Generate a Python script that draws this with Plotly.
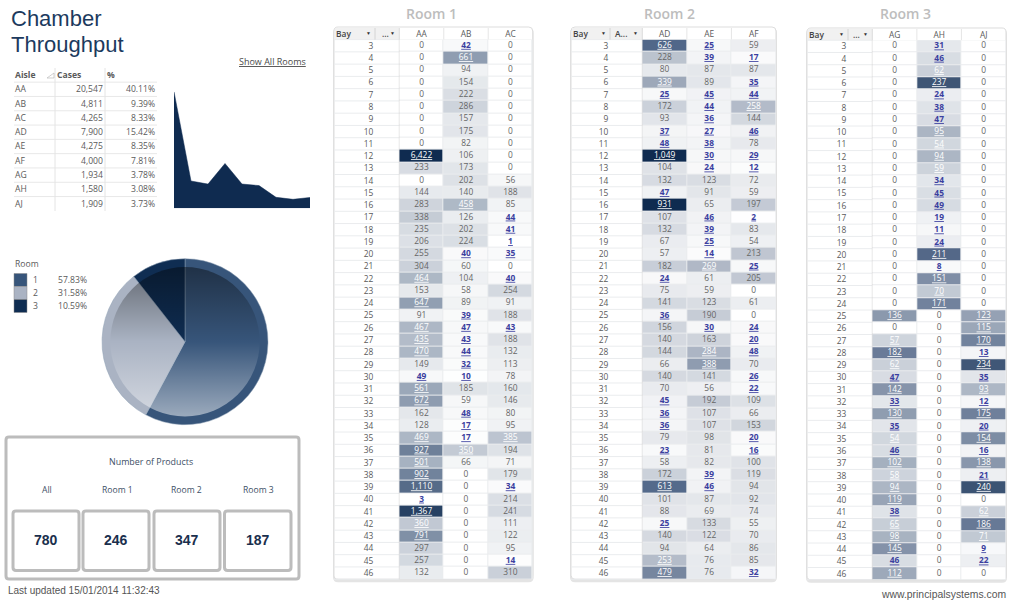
import base64

import numpy as np
import plotly.graph_objects as go

# data
BAYS = list(range(3, 47))

AA = [0,0,0,0,0,0,0,0,0,6422,233,0,144,283,338,235,206,255,304,464,153,647,91,467,435,470,149,49,561,672,162,128,469,927,501,902,1110,3,1367,360,791,297,257,132]
AB = [42,661,94,154,222,286,157,175,82,106,173,202,140,458,126,202,224,40,60,104,58,89,39,47,43,44,32,10,185,59,48,17,17,350,66,0,0,0,0,0,0,0,0,0]
AC = [0,0,0,0,0,0,0,0,0,0,0,56,188,85,44,41,1,35,0,40,254,91,188,43,188,132,113,78,160,146,80,95,385,194,71,179,34,214,241,111,122,95,14,310]

AD = [626,228,80,339,25,172,93,37,48,1049,104,132,47,931,107,132,67,57,182,24,75,141,36,156,140,144,66,140,70,45,36,36,79,23,58,172,613,101,88,25,140,94,253,479]
AE = [25,39,87,89,45,44,36,27,38,30,24,123,91,65,46,39,25,14,269,61,59,123,190,30,163,284,388,141,56,192,107,107,98,81,82,39,46,87,69,133,122,64,76,76]
AF = [59,17,87,35,44,258,144,46,78,29,12,72,59,197,2,83,54,213,25,205,0,61,0,24,20,48,70,26,22,109,66,153,20,16,100,119,94,92,74,55,70,86,85,32]

AG = [0,0,0,0,0,0,0,0,0,0,0,0,0,0,0,0,0,0,0,0,0,0,136,0,57,182,62,47,142,33,130,35,54,46,102,58,94,119,38,65,98,145,46,112]
AH = [31,46,62,237,24,38,47,95,54,94,59,34,45,49,19,11,24,211,8,151,70,171,0,0,0,0,0,0,0,0,0,0,0,0,0,0,0,0,0,0,0,0,0,0]
AJ = [0,0,0,0,0,0,0,0,0,0,0,0,0,0,0,0,0,0,0,0,0,0,123,115,170,13,234,35,93,12,175,20,154,16,138,21,240,0,62,186,71,9,22,0]

AISLES = ["AA", "AB", "AC", "AD", "AE", "AF", "AG", "AH", "AJ"]
CASES = [20547, 4811, 4265, 7900, 4275, 4000, 1934, 1580, 1909]
CASES_PCT = ["40.11%", "9.39%", "8.33%", "15.42%", "8.35%", "7.81%", "3.78%", "3.08%", "3.73%"]

ROOMS = ["1", "2", "3"]
ROOM_SHARE = [57.83, 31.58, 10.59]
ROOM_COLORS = ["#37557a", "#aab3c3", "#0f2d52"]

PRODUCT_LABELS = ["All", "Room 1", "Room 2", "Room 3"]
PRODUCT_COUNTS = [780, 246, 347, 187]

W, H = 1024, 603
NAVY = "#0f2b50"
TEXT = "#5a5a5a"
LINK = "#3b3f9f"
GRID = "#eaecee"
FONT = "Open Sans"

# colour stops are (value, colour), each room has its own scale
TABLES = [
    dict(title="Room 1", title_x=431.7, cols=["AA", "AB", "AC"], values=[AA, AB, AC],
         left=334, head=375, body=399.3, right=532.7, top=27, y0=39.6, y1=579.2, white_from=350,
         second="...", second_x=382, zmax=1500,
         stops=[(0, "#ffffff"), (100, "#eff1f3"), (350, "#c3cad4"), (560, "#9ba8b9"), (790, "#8090a6"),
                (1110, "#566b88"), (1500, NAVY)]),
    dict(title="Room 2", title_x=669, cols=["AD", "AE", "AF"], values=[AD, AE, AF],
         left=571, head=610, body=642.3, right=776, top=27, y0=39.6, y1=579.2, white_from=250,
         second="A...", second_x=615, zmax=900,
         stops=[(0, "#ffffff"), (100, "#e0e3e8"), (250, "#b5bdca"), (480, "#76869f"), (620, "#52688a"), (900, NAVY)]),
    dict(title="Room 3", title_x=905.5, cols=["AG", "AH", "AJ"], values=[AG, AH, AJ],
         left=807, head=848, body=872.3, right=1006, top=28, y0=40.2, y1=579.8, white_from=50,
         second="...", second_x=853, zmax=240,
         stops=[(0, "#ffffff"), (50, "#d5dae1"), (100, "#a6b1c0"), (150, "#808fa6"), (200, "#5d7090"), (240, "#3b5373")]),
]


def px(x):
    return x / W


def py(y):
    return 1 - y / H


def rounded(x0, y0, x1, y1, r):
    pts = [
        ("M", x0 + r, y0), ("L", x1 - r, y0), ("Q", x1, y0, x1, y0 + r), ("L", x1, y1 - r),
        ("Q", x1, y1, x1 - r, y1), ("L", x0 + r, y1), ("Q", x0, y1, x0, y1 - r), ("L", x0, y0 + r),
        ("Q", x0, y0, x0 + r, y0),
    ]
    out = ""
    for p in pts:
        coords = p[1:]
        pairs = [f"{px(coords[i]):.5f},{py(coords[i + 1]):.5f}" for i in range(0, len(coords), 2)]
        out += p[0] + " " + " ".join(pairs) + " "
    return out + "Z"


shapes = []
notes = []


def label(text, x, y, size=8.5, color=TEXT, anchor="center", family=FONT, weight=None):
    font = dict(size=size, color=color, family=family)
    if weight:
        font["weight"] = weight
    notes.append(dict(text=text, x=px(x), y=py(y), xref="paper", yref="paper", showarrow=False,
                      xanchor=anchor, yanchor="middle", font=font, borderpad=0, borderwidth=0))


def line(x0, y0, x1, y1, color="#e3e3e3", width=1, layer="below"):
    shapes.append(dict(type="line", xref="paper", yref="paper", x0=px(x0), y0=py(y0), x1=px(x1), y1=py(y1),
                       line=dict(color=color, width=width), layer=layer))


def box(x0, y0, x1, y1, fill, color=None, width=0, r=None, layer="below"):
    if r:
        shapes.append(dict(type="path", path=rounded(x0, y0, x1, y1, r), xref="paper", yref="paper",
                           fillcolor=fill, line=dict(color=color or fill, width=width), layer=layer))
    else:
        shapes.append(dict(type="rect", xref="paper", yref="paper", x0=px(x0), y0=py(y0), x1=px(x1), y1=py(y1),
                           fillcolor=fill, line=dict(color=color or fill, width=width), layer=layer))


fig = go.Figure()
axes = {}

# the three room tables
for n, t in enumerate(TABLES):
    xname = "x" if n == 0 else f"x{n + 1}"
    yname = "y" if n == 0 else f"y{n + 1}"
    z = np.array(t["values"]).T
    stops = [[v / t["zmax"], c] for v, c in t["stops"]]
    fig.add_trace(go.Heatmap(x=t["cols"], y=BAYS, z=z, zmin=0, zmax=t["zmax"], colorscale=stops, showscale=False,
                             xgap=1, ygap=1, xaxis=xname, yaxis=yname, hoverinfo="skip"))

    xs, ys, labels, colors = [], [], [], []
    for col, vals in zip(t["cols"], t["values"]):
        for bay, v in zip(BAYS, vals):
            s = f"{v:,}"
            c = "#666666"
            if v >= t["white_from"]:
                s, c = f"<u>{s}</u>", "#ffffff"
            elif 0 < v < 50:
                s, c = f"<b><u>{s}</u></b>", LINK
            xs.append(col)
            ys.append(bay)
            labels.append(s)
            colors.append(c)
    fig.add_trace(go.Scatter(x=xs, y=ys, text=labels, mode="text", textfont=dict(color=colors, size=8.4, family=FONT),
                             xaxis=xname, yaxis=yname, hoverinfo="skip", cliponaxis=False))

    axes["xaxis" if n == 0 else f"xaxis{n + 1}"] = dict(
        domain=[px(t["body"]), px(t["right"])], anchor=yname, side="top", type="category",
        range=[-0.5, 2.5], showgrid=False, zeroline=False, showline=False, ticks="",
        tickfont=dict(size=8.4, color=TEXT, family=FONT), fixedrange=True)
    axes["yaxis" if n == 0 else f"yaxis{n + 1}"] = dict(
        domain=[py(t["y1"]), py(t["y0"])], anchor=xname, range=[46.5, 2.5], tickmode="array",
        tickvals=BAYS, ticks="outside", ticklen=t["body"] - t["head"] - 1, tickcolor="rgba(0,0,0,0)",
        showgrid=False, zeroline=False, showline=False, tickfont=dict(size=8.4, color=TEXT, family=FONT),
        fixedrange=True)

    # frame, shadow and the header row
    box(t["left"] - 1, t["top"] + 1, t["right"] + 1, t["y1"] + 3, "#e4e4e4", r=5)
    box(t["left"], t["top"], t["right"], t["y1"], "#ffffff", "#dddddd", 1, r=4)
    box(t["body"], t["y0"], t["right"], t["y1"], GRID)
    box(t["left"] + 1, t["top"] + 1, t["body"], t["y0"], "#f1f1f1")
    row_h = (t["y1"] - t["y0"]) / len(BAYS)
    for i in range(len(BAYS) + 1):
        line(t["left"], t["y0"] + i * row_h, t["body"], t["y0"] + i * row_h, GRID)
    line(t["head"], t["top"] + 1, t["head"], t["y0"], "#d4d4d4")
    line(t["body"], t["top"] + 1, t["body"], t["y1"], "#dcdcdc")
    col_w = (t["right"] - t["body"]) / 3
    for i in (1, 2):
        line(t["body"] + i * col_w, t["top"] + 1, t["body"] + i * col_w, t["y0"], "#e6e6e6")
    label("Bay", t["left"] + 2, (t["top"] + t["y0"]) / 2, 8.4, "#444444", "left", weight=600)
    label("▼", t["head"] - 7, (t["top"] + t["y0"]) / 2 - 0.5, 5, "#333333")
    label(t["second"], t["second_x"], (t["top"] + t["y0"]) / 2, 8.4, "#444444", "left", weight=600)
    label("▼", t["body"] - 7, (t["top"] + t["y0"]) / 2 - 0.5, 5, "#333333")
    label(t["title"], t["title_x"], 13.5, 14, "#bdbdbd", weight=600)

# cases area chart
fig.add_trace(go.Scatter(x=AISLES, y=CASES, mode="lines", fill="tozeroy", fillcolor=NAVY,
                         line=dict(color=NAVY, width=0.5), xaxis="x4", yaxis="y4", hoverinfo="skip"))
axes["xaxis4"] = dict(domain=[px(174), px(310)], anchor="y4", type="category", range=[0, 8], visible=False)
axes["yaxis4"] = dict(domain=[py(208.3), py(91.7)], anchor="x4", range=[0, max(CASES)], visible=False)

# aisle table
label("<b>Aisle</b>", 15, 74.7, 8.6, anchor="left")
label("<b>Cases</b>", 57, 74.7, 8.6, anchor="left")
label("<b>%</b>", 107, 74.7, 8.6, anchor="left")
for i, (aisle, cases, pct) in enumerate(zip(AISLES, CASES, CASES_PCT)):
    row_y = 89.3 + i * 14.3
    label(aisle, 15, row_y, 8.6, anchor="left")
    label(f"{cases:,}", 103, row_y, 8.6, anchor="right")
    label(pct, 155, row_y, 8.6, anchor="right")
    line(14, row_y - 7.15, 157, row_y - 7.15, "#e8e8e8")
line(55, 68, 55, 211, "#e4e4e4")
line(105, 68, 105, 211, "#e4e4e4")
# small sort mark next to Aisle
shapes.append(dict(type="path", xref="paper", yref="paper", layer="below",
                   path=f"M {px(47)},{py(78)} L {px(54)},{py(78)} L {px(54)},{py(73)} Z",
                   fillcolor="rgba(0,0,0,0)", line=dict(color="#bbbbbb", width=0.7)))

# pie, the gradient sits on top as an image, the ring stays flat
fig.add_trace(go.Pie(labels=ROOMS, values=ROOM_SHARE, sort=False, direction="clockwise", rotation=0,
                     marker=dict(colors=ROOM_COLORS, line=dict(color="#8fa0b5", width=0.5)),
                     textinfo="none", hoverinfo="skip", showlegend=False,
                     domain=dict(x=[px(102), px(268)], y=[py(424.7), py(258.7)])))

svg = """<svg xmlns="http://www.w3.org/2000/svg" width="166" height="166" viewBox="0 0 166 166">
<defs><linearGradient id="g" x1="0" y1="0" x2="0" y2="1">
<stop offset="0" stop-color="#000000" stop-opacity="0.42"/>
<stop offset="0.5" stop-color="#000000" stop-opacity="0"/>
<stop offset="0.5" stop-color="#ffffff" stop-opacity="0"/>
<stop offset="1" stop-color="#ffffff" stop-opacity="0.5"/>
</linearGradient></defs>
<circle cx="83" cy="83" r="74.7" fill="url(#g)"/></svg>"""
pie_shade = "data:image/svg+xml;base64," + base64.b64encode(svg.encode()).decode()

# pie legend
label("Room", 15, 263.5, 8.6, anchor="left")
for i, (room, share, color) in enumerate(zip(ROOMS, ROOM_SHARE, ROOM_COLORS)):
    box(14, 273.5 + i * 13, 27, 286.5 + i * 13, color, "#8a8a8a", 0.5)
    label(room, 33, 279.7 + i * 13.2, 8.6, anchor="left")
    label(f"{share:.2f}%", 58, 279.7 + i * 13.2, 8.6, anchor="left")

# title and links
label("Chamber", 11, 19, 22, "#1c3a5e", "left", "Liberation Sans")
label("Throughput", 11, 45, 22, "#1c3a5e", "left", "Liberation Sans")
label("<u>Show All Rooms</u>", 306, 62, 9, "#4a4a4a", "right")

# number of products panel
box(6, 437, 299, 579, "#ffffff", "#bcbcbc", 3, r=3)
label("Number of Products", 151, 461, 8.9, "#3d4f66")
label_x = [47, 117, 186, 258]
box_x = [(13, 79), (83, 149), (154, 220), (224.5, 291)]
for name, count, lx, (bx0, bx1) in zip(PRODUCT_LABELS, PRODUCT_COUNTS, label_x, box_x):
    label(name, lx, 489.5, 8.6, "#3d4f66")
    box(bx0, 511, bx1, 570.5, "#ffffff", "#bcbcbc", 3, r=3)
    label(f"<b>{count}</b>", (bx0 + bx1) / 2, 540, 14, "#1a2f4d", family="Liberation Sans")

label("Last updated 15/01/2014 11:32:43", 8, 590.5, 10, "#555555", "left", "Liberation Sans")
label("www.principalsystems.com", 1006, 594, 10.4, "#555555", "right", "Liberation Sans")

fig.update_layout(
    width=W, height=H, margin=dict(l=0, r=0, t=0, b=0), autosize=False,
    paper_bgcolor="#ffffff", plot_bgcolor="rgba(0,0,0,0)", showlegend=False,
    shapes=shapes, annotations=notes,
    images=[dict(source=pie_shade, xref="paper", yref="paper", x=px(102), y=py(258.7), sizex=px(166), sizey=166 / H,
                 sizing="stretch", xanchor="left", yanchor="top", layer="above")],
    **axes,
)

fig.write_html("out.html", config=dict(displayModeBar=False),
               post_script="document.body.style.margin='0';document.body.style.overflow='hidden';")
